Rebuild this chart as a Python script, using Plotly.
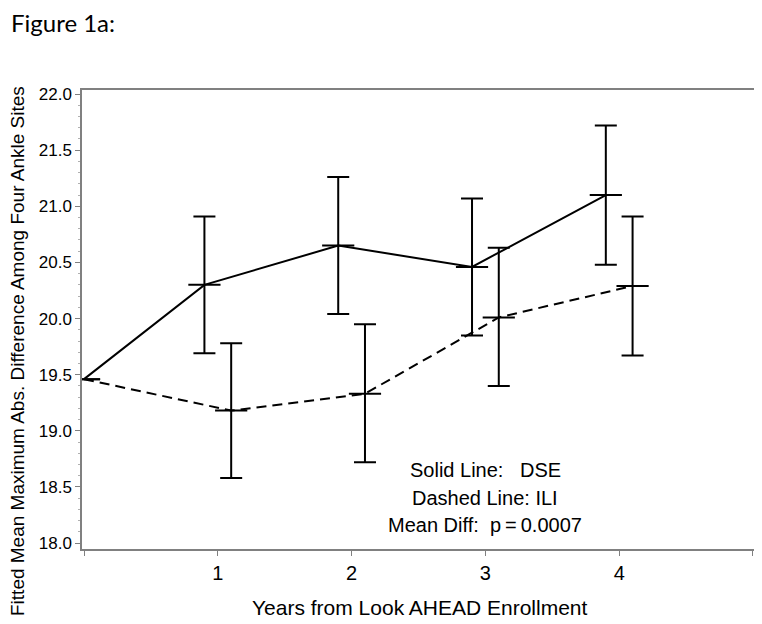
import plotly.graph_objects as go

# Data
years = [0, 1, 2, 3, 4]
dse_mean = [19.46, 20.30, 20.65, 20.46, 21.10]
dse_lower = [None, 19.69, 20.04, 19.85, 20.48]
dse_upper = [None, 20.91, 21.26, 21.07, 21.72]
ili_mean = [19.46, 19.18, 19.33, 20.01, 20.29]
ili_lower = [None, 18.58, 18.72, 19.40, 19.67]
ili_upper = [None, 19.78, 19.95, 20.63, 20.91]
offset = 0.1
x_ticks = [1, 2, 3, 4]
y_ticks = [18.0, 18.5, 19.0, 19.5, 20.0, 20.5, 21.0, 21.5, 22.0]

fig = go.Figure()

def add_group(mean, lower, upper, xoff, dash):
    xs = [y + (xoff if y > 0 else 0) for y in years]
    up = [0 if u is None else u - m for u, m in zip(upper, mean)]
    dn = [0 if l is None else m - l for l, m in zip(lower, mean)]
    fig.add_trace(go.Scatter(
        x=xs, y=mean, mode="lines",
        line=dict(color="black", width=2, dash=dash),
        hoverinfo="skip", showlegend=False,
    ))
    fig.add_trace(go.Scatter(
        x=xs[1:], y=mean[1:], mode="markers",
        marker=dict(symbol="line-ew", size=23, color="black",
                    line=dict(color="black", width=2)),
        error_y=dict(type="data", symmetric=False, array=up[1:], arrayminus=dn[1:],
                     color="black", thickness=2, width=11),
        showlegend=False,
    ))
    fig.add_trace(go.Scatter(
        x=xs[:1], y=mean[:1], mode="markers",
        marker=dict(symbol="line-ew", size=23, color="black",
                    line=dict(color="black", width=2)),
        showlegend=False,
    ))

add_group(dse_mean, dse_lower, dse_upper, -offset, "solid")
add_group(ili_mean, ili_lower, ili_upper, offset, "10px,6px")

font = "Liberation Sans, Arial, sans-serif"
OFF = 8  # page body margin
W, H = 762 - OFF, 624 - OFF
L, T = 82 - OFF, 90 - OFF
R, B = W - (755 - OFF), H - (549 - OFF)
PW, PH = W - L - R, H - T - B


def px(xr):
    return (xr - OFF - L) / PW


def py(yr):
    return 1 - (yr - OFF - T) / PH


fig.update_layout(
    width=W, height=H,
    margin=dict(l=L, r=R, t=T, b=B, autoexpand=False),
    paper_bgcolor="white", plot_bgcolor="white",
    font=dict(family=font, color="black", size=16),
    xaxis=dict(
        range=[-0.015, 5.015], tickmode="array", tickvals=[0] + x_ticks + [5],
        ticktext=[""] + [str(t) for t in x_ticks] + [""],
        ticks="outside", ticklen=5, tickcolor="#808080", tickwidth=1,
        ticklabelstandoff=0,
        showline=True, linecolor="#808080", linewidth=1.5, mirror=True,
        showgrid=False, zeroline=False, automargin=False,
        tickfont=dict(size=20),
    ),
    yaxis=dict(
        range=[17.947, 22.036], tickmode="array", tickvals=y_ticks,
        ticktext=[f"{v:.1f}" for v in y_ticks],
        ticks="outside", ticklen=5, tickcolor="#808080", tickwidth=1,
        minor=dict(dtick=0.1, ticks="outside", ticklen=2, tickcolor="#b0b0b0", showgrid=False),
        showline=True, linecolor="#808080", linewidth=1.5, mirror=True,
        showgrid=False, zeroline=False, automargin=False,
        tickfont=dict(size=17),
    ),
    annotations=[
        dict(text="Figure 1a:", xref="paper", yref="paper", x=px(9), y=py(22),
             xanchor="left", yanchor="middle", showarrow=False,
             font=dict(family="Lato, Carlito, Calibri, sans-serif", size=24)),
        dict(text="Years from Look AHEAD Enrollment", xref="paper", yref="paper",
             x=px(420), y=py(607), xanchor="center", yanchor="middle",
             showarrow=False, font=dict(size=21)),
        dict(text="Fitted Mean Maximum Abs. Difference Among Four Ankle Sites",
             xref="paper", yref="paper", x=px(17), y=py(351),
             xanchor="center", yanchor="middle", textangle=-90,
             showarrow=False, font=dict(size=19)),
        dict(text="Solid Line:   DSE", x=3.0, y=18.65, xref="x", yref="y",
             showarrow=False, font=dict(size=20)),
        dict(text="Dashed Line: ILI", x=3.0, y=18.40, xref="x", yref="y",
             showarrow=False, font=dict(size=20)),
        dict(text="Mean Diff:  p\u2009=\u20090.0007", x=3.0, y=18.16, xref="x", yref="y",
             showarrow=False, font=dict(size=20)),
    ],
)

fig.write_html("out.html")
